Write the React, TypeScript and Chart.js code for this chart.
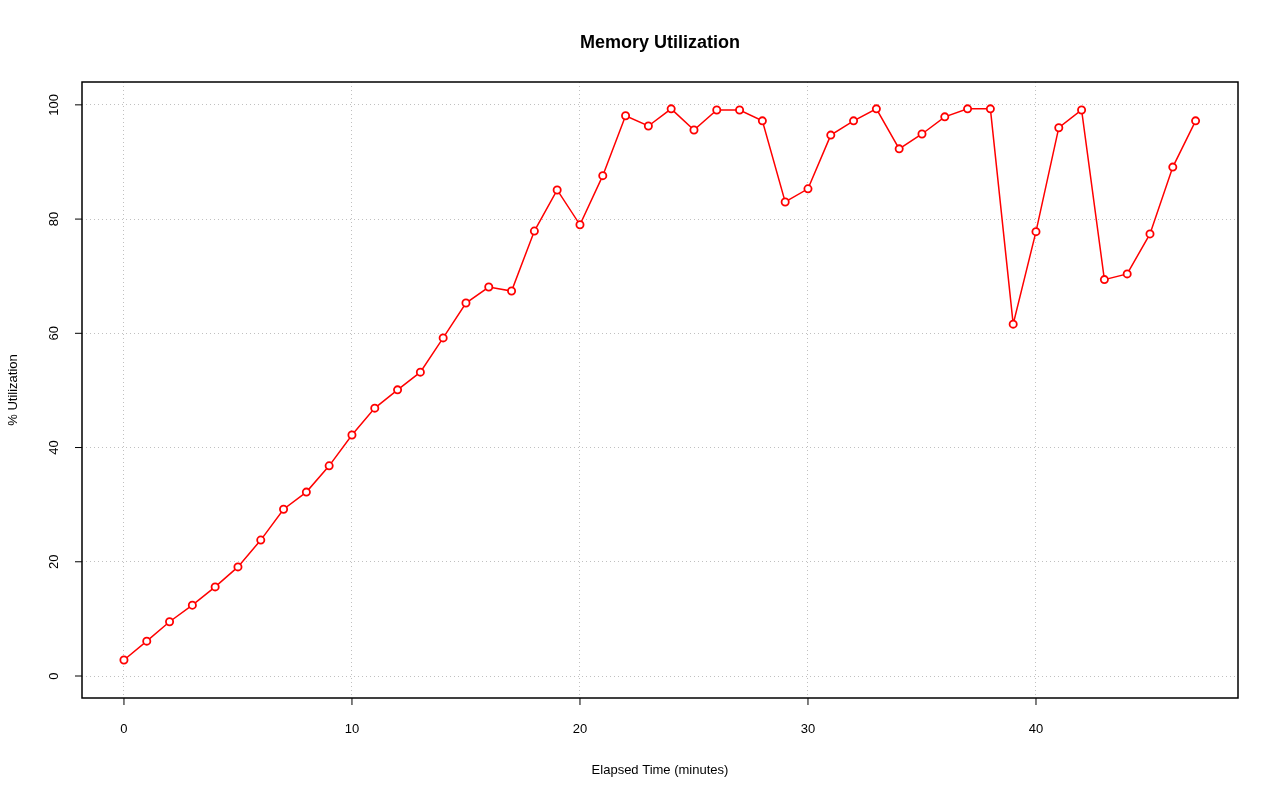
import React, { useEffect, useRef } from "react";
import { Chart, registerables } from "chart.js";

Chart.register(...registerables);

const minutes = Array.from({ length: 48 }, (_, i) => i);
const utilization = [
  2.8, 6.1, 9.5, 12.4, 15.6, 19.1, 23.8, 29.2, 32.2, 36.8,
  42.2, 46.9, 50.1, 53.2, 59.2, 65.3, 68.1, 67.4, 77.9, 85.1,
  79.0, 87.6, 98.1, 96.3, 99.3, 95.6, 99.1, 99.1, 97.2, 83.0,
  85.3, 94.7, 97.2, 99.3, 92.3, 94.9, 97.9, 99.3, 99.3, 61.6,
  77.8, 96.0, 99.1, 69.4, 70.4, 77.4, 89.1, 97.2,
];
const xTicks = [0, 10, 20, 30, 40];
const yTicks = [0, 20, 40, 60, 80, 100];

const FONT = "'Liberation Sans', Arial, sans-serif";

const frame = {
  id: "frame",
  afterDraw(chart: any) {
    const { ctx, chartArea: a, scales } = chart;
    ctx.save();
    ctx.strokeStyle = "#000";
    ctx.lineWidth = 1.5;
    ctx.strokeRect(a.left, a.top, a.right - a.left, a.bottom - a.top);
    ctx.fillStyle = "#000";
    ctx.font = `13px ${FONT}`;
    ctx.lineWidth = 1;
    xTicks.forEach((t) => {
      const x = scales.x.getPixelForValue(t);
      ctx.beginPath();
      ctx.moveTo(x, a.bottom);
      ctx.lineTo(x, a.bottom + 7);
      ctx.stroke();
      ctx.textAlign = "center";
      ctx.textBaseline = "middle";
      ctx.fillText(String(t), x, a.bottom + 31);
    });
    yTicks.forEach((t) => {
      const y = scales.y.getPixelForValue(t);
      ctx.beginPath();
      ctx.moveTo(a.left, y);
      ctx.lineTo(a.left - 7, y);
      ctx.stroke();
      ctx.save();
      ctx.translate(a.left - 28, y);
      ctx.rotate(-Math.PI / 2);
      ctx.textAlign = "center";
      ctx.textBaseline = "middle";
      ctx.fillText(String(t), 0, 0);
      ctx.restore();
    });
    ctx.textAlign = "center";
    ctx.textBaseline = "middle";
    ctx.fillText("Elapsed Time (minutes)", (a.left + a.right) / 2, 770);
    ctx.save();
    ctx.translate(13, (a.top + a.bottom) / 2);
    ctx.rotate(-Math.PI / 2);
    ctx.fillText("% Utilization", 0, 0);
    ctx.restore();
    ctx.font = `bold 18px ${FONT}`;
    ctx.fillText("Memory Utilization", (a.left + a.right) / 2, 43);
    ctx.restore();
  },
};

const App = () => {
  const chartRef = useRef<HTMLCanvasElement>(null);

  useEffect(() => {
    const ctx = chartRef.current!.getContext("2d")!;
    const grid = { color: "#c0c0c0", lineWidth: 1, drawTicks: false };
    const myChart = new Chart(ctx, {
      type: "line",
      data: {
        datasets: [
          {
            data: minutes.map((m, i) => ({ x: m, y: utilization[i] })),
            borderColor: "#ff0000",
            borderWidth: 1.5,
            backgroundColor: "#ffffff",
            pointBackgroundColor: "#ffffff",
            pointBorderColor: "#ff0000",
            pointBorderWidth: 1.8,
            pointRadius: 3.6,
            tension: 0,
          },
        ],
      },
      options: {
        animation: false,
        responsive: false,
        layout: { padding: { top: 82, right: 42, left: 0, bottom: 0 } },
        plugins: { legend: { display: false }, tooltip: { enabled: false } },
        scales: {
          x: {
            type: "linear",
            min: -1.84,
            max: 48.86,
            afterBuildTicks: (s: any) => { s.ticks = xTicks.map((v) => ({ value: v })); },
            afterFit: (s: any) => { s.height = 103; },
            ticks: { display: false },
            grid: { ...grid },
            border: { display: false, dash: [1, 3] },
          },
          y: {
            min: -3.85,
            max: 104.0,
            afterBuildTicks: (s: any) => { s.ticks = yTicks.map((v) => ({ value: v })); },
            afterFit: (s: any) => { s.width = 82; },
            ticks: { display: false },
            grid: { ...grid },
            border: { display: false, dash: [1, 3] },
          },
        },
      } as any,
      plugins: [frame],
    });
    return () => {
      myChart.destroy();
    };
  }, []);

  return (
    <div style={{ margin: -8, width: 1280, height: 801 }}>
      <canvas ref={chartRef} width={1280} height={801}></canvas>
    </div>
  );
};

export default App;
